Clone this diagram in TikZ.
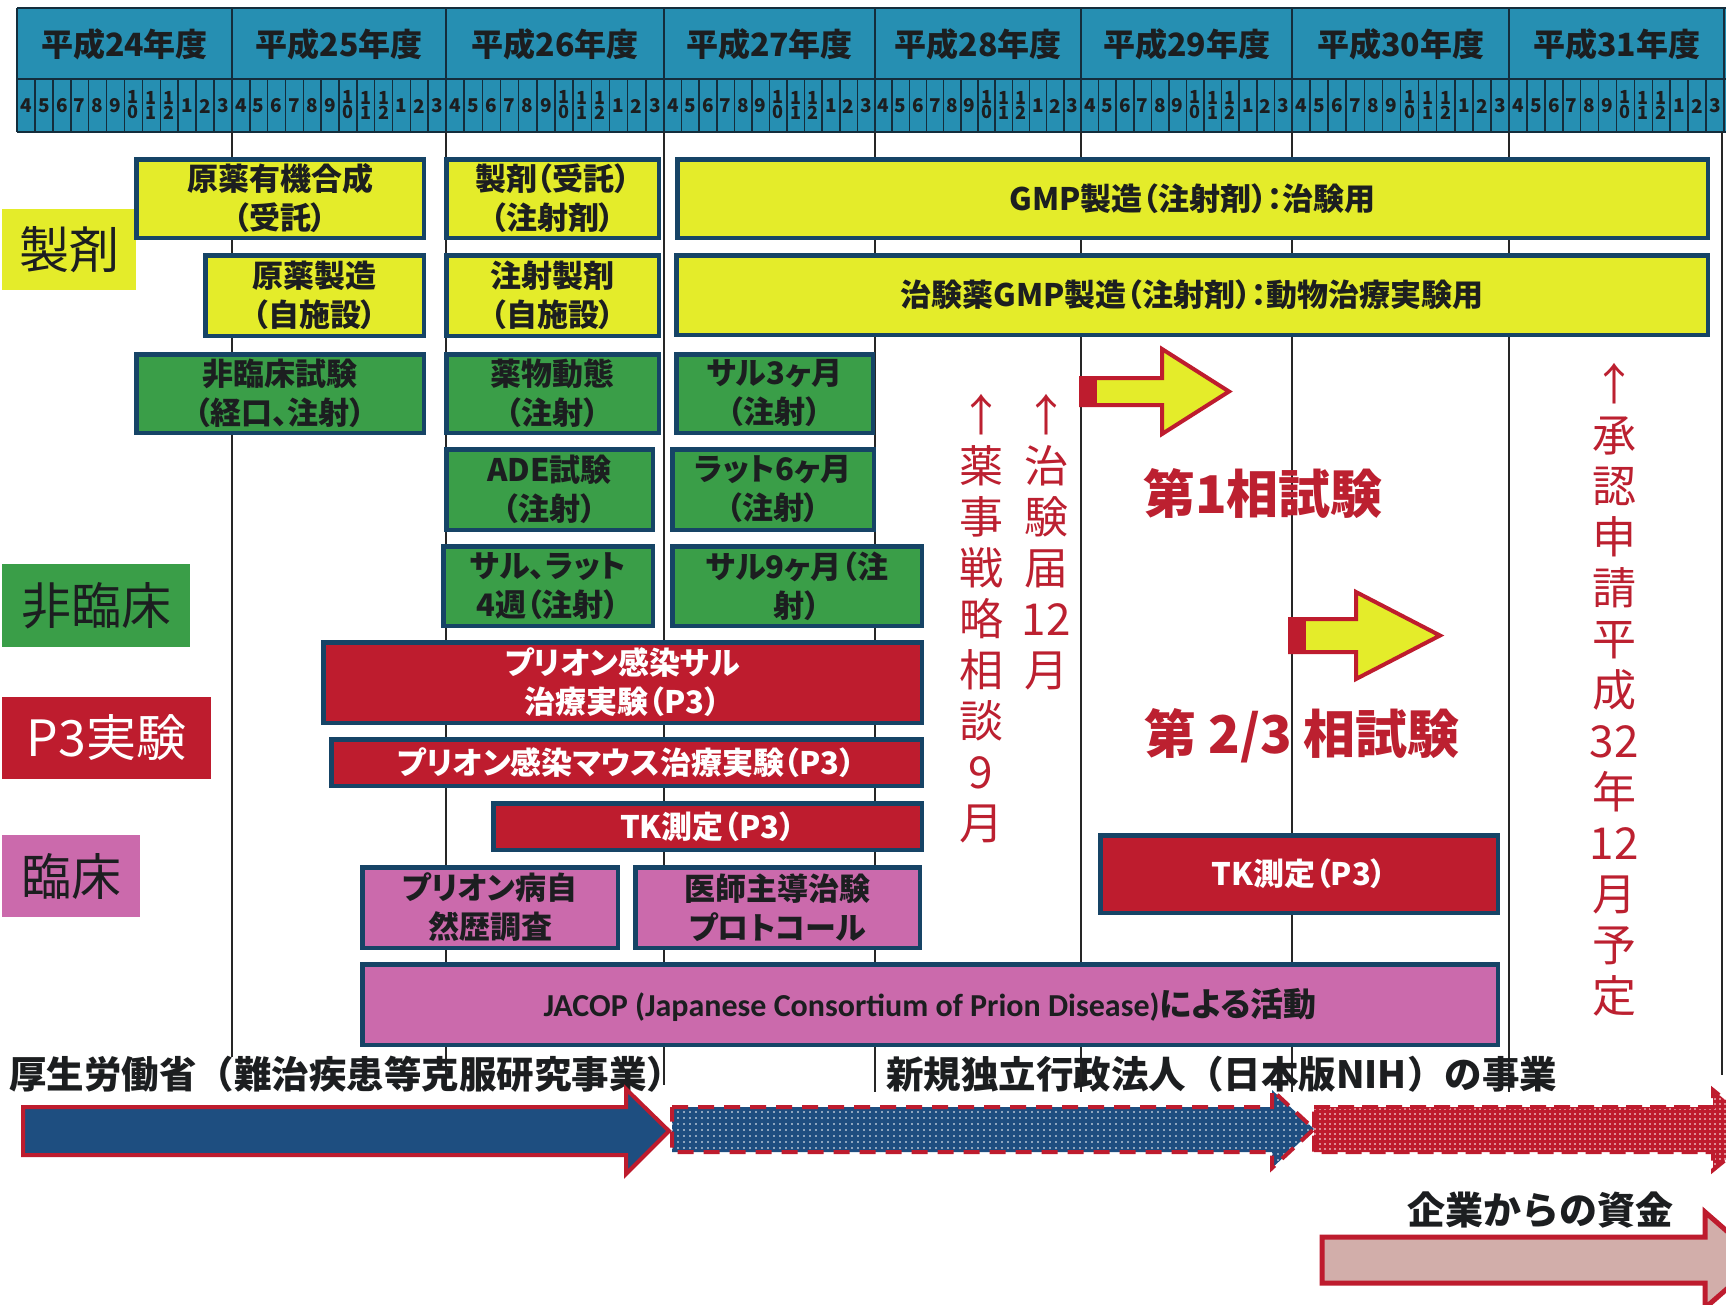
\documentclass[tikz,border=0pt]{standalone}
\usepackage{fontspec}
\setmainfont{Noto Sans CJK JP}
\newfontfamily\bxf[RawFeature={+palt}]{Noto Sans CJK JP}
\newfontfamily\latfont{Carlito}
\usetikzlibrary{patterns.meta}
\definecolor{hdr}{RGB}{38,143,178}
\definecolor{hdrline}{RGB}{20,45,60}
\definecolor{bline}{RGB}{22,68,102}
\definecolor{ylw}{RGB}{228,236,42}
\definecolor{grn}{RGB}{58,158,72}
\definecolor{rd}{RGB}{190,28,46}
\definecolor{pnk}{RGB}{203,106,172}
\definecolor{txt}{RGB}{28,30,32}
\definecolor{rtxt}{RGB}{188,32,48}
\definecolor{navyc}{RGB}{30,78,128}
\definecolor{tanc}{RGB}{210,174,170}
\tikzset{
  bx/.style={draw=bline, line width=4.5pt, inner sep=0pt, align=center, text=txt, font=\bxf\bfseries\fontsize{31}{39}\selectfont},
  ybx/.style={bx, fill=ylw},
  gbx/.style={bx, fill=grn},
  rbx/.style={bx, fill=rd, text=white},
  pbx/.style={bx, fill=pnk},
  cat/.style={inner sep=0pt, align=center, text=txt, font=\fontsize{50}{54}\selectfont},
  vtxt/.style={inner sep=0pt, align=center, text=rtxt, font=\fontsize{44}{51}\selectfont, anchor=north},
  phase/.style={text=rtxt, font=\bfseries\fontsize{52}{56}\selectfont, inner sep=0pt},
  btxt/.style={text=txt, font=\bfseries\fontsize{37.5}{40}\selectfont, inner sep=0pt, anchor=west},
  yr/.style={text=txt, font=\bfseries\fontsize{32}{34}\selectfont, inner sep=0pt},
  mo/.style={text=txt, font=\bfseries\fontsize{19}{20}\selectfont, inner sep=0pt},
  mo2/.style={text=txt, font=\bfseries\fontsize{18}{19}\selectfont, inner sep=0pt, align=center},
  gridln/.style={draw=black!85, line width=1.8pt},
  hline/.style={draw=hdrline, line width=2.2pt},
}
\newcommand{\bxn}[7]{\node[#2, minimum width={(#5-#3-4.5)*1pt}, minimum height={(#6-#4-4.5)*1pt}] (#1) at ({(#3+#5)/2},{(#4+#6)/2}) {#7};}
\begin{document}
\begin{tikzpicture}[x=1pt,y=-1pt]
\useasboundingbox (0,0) rectangle (1726,1304);
\begin{scope}
\clip (0,0) rectangle (1726,1304);
\fill[white] (0,0) rectangle (1726,1304);
% header
\fill[hdr] (17,8) rectangle (1726,132);
\draw[hline] (17,8) -- (1726,8);
\draw[hline] (17,79) -- (1726,79);
\draw[hline] (17,132) -- (1726,132);
\draw[hline] (17,8) -- (17,132);
\foreach \a/\b/\yy in {17/232/24, 232/446/25, 446/664/26, 664/875/27, 875/1081/28, 1081/1292/29, 1292/1509/30, 1509/1724/31}{
  \pgfmathsetmacro\w{(\b-\a)/12}
  \node[yr] (yr\yy) at ({(\a+\b)/2},44) {平成\yy{}年度};
  \draw[hline, line width=2.8pt] (\b,8) -- (\b,132);
  \foreach \m [count=\i from 0] in {4,5,6,7,8,9,10,11,12,1,2,3}{
    \pgfmathsetmacro\cx{\a+(\i+0.5)*\w}
    \ifnum\m>9
      \pgfmathtruncatemacro\ld{\m-10}
      \node[mo2] (m\yy-\i) at (\cx,105) {1\\[-4pt]\ld};
    \else
      \node[mo] (m\yy-\i) at (\cx,106) {\m};
    \fi
    \ifnum\i>0 \draw[hline, line width=1.6pt] ({\a+\i*\w},79) -- ({\a+\i*\w},132); \fi
  }
}
% body grid lines
\draw[gridln] (232,132) -- (232,1057);
\draw[gridln] (446,132) -- (446,1085);
\draw[gridln] (664,132) -- (664,1085);
\draw[gridln] (875,132) -- (875,1092);
\draw[gridln] (1081,132) -- (1081,1092);
\draw[gridln] (1292,132) -- (1292,1092);
\draw[gridln] (1509,132) -- (1509,1092);
\draw[gridln] (1722,132) -- (1722,1075);
% category labels
\bxn{cSei}{cat, fill=ylw}{0}{207}{138}{292}{製剤}
\bxn{cHi}{cat, fill=grn}{0}{562}{192}{649}{非臨床}
\bxn{cP3}{cat, fill=rd, text=white}{0}{695}{213}{781}{P3実験}
\bxn{cRin}{cat, fill=pnk}{0}{833}{142}{919}{臨床}
% yellow boxes
\bxn{y1}{ybx}{134}{157}{426}{240}{原薬有機合成\\（受託）}
\bxn{y2}{ybx}{444}{157}{661}{240}{製剤（受託）\\（注射剤）}
\bxn{y3}{ybx}{675}{157}{1710}{240}{GMP製造（注射剤）：治験用}
\bxn{y4}{ybx}{203}{253}{426}{338}{原薬製造\\（自施設）}
\bxn{y5}{ybx}{444}{253}{661}{338}{注射製剤\\（自施設）}
\bxn{y6}{ybx}{674}{253}{1710}{337}{治験薬GMP製造（注射剤）：動物治療実験用}
% green boxes
\bxn{g1}{gbx}{134}{352}{426}{435}{非臨床試験\\（経口、注射）}
\bxn{g2}{gbx}{444}{352}{661}{435}{薬物動態\\（注射）}
\bxn{g3}{gbx}{674}{352}{875}{435}{サル3ヶ月\\（注射）}
\bxn{g4}{gbx}{444}{447}{655}{532}{ADE試験\\（注射）}
\bxn{g5}{gbx}{670}{447}{876}{532}{ラット6ヶ月\\（注射）}
\bxn{g6}{gbx}{441}{544}{655}{628}{サル、ラット\\4週（注射）}
\bxn{g7}{gbx}{670}{544}{924}{628}{サル9ヶ月（注\\射）}
% red boxes
\bxn{r1}{rbx}{321}{640}{924}{725}{プリオン感染サル\\治療実験（P3）}
\bxn{r2}{rbx}{329}{737}{924}{788}{プリオン感染マウス治療実験（P3）}
\bxn{r3}{rbx}{491}{801}{924}{852}{TK測定（P3）}
\bxn{r4}{rbx}{1098}{833}{1500}{915}{TK測定（P3）}
% pink boxes
\bxn{p1}{pbx}{360}{865}{620}{950}{プリオン病自\\然歴調査}
\bxn{p2}{pbx}{633}{865}{922}{950}{医師主導治験\\プロトコール}
\bxn{p3}{pbx}{360}{962}{1500}{1047}{{\latfont\bfseries\fontsize{32}{39}\selectfont JACOP (Japanese Consortium of Prion Disease)}{\fontsize{33}{39}\selectfont による活動}}
% vertical red notes
\node[vtxt] (v1) at (981,394) {↑\\薬\\事\\戦\\略\\相\\談\\9\\月};
\node[vtxt] (v2) at (1046,394) {↑\\治\\験\\届\\12\\月};
\node[vtxt] (v3) at (1614,363) {↑\\承\\認\\申\\請\\平\\成\\32\\年\\12\\月\\予\\定};
% phase arrows
\filldraw[fill=ylw, draw=rd, line width=4pt] (1081,378) -- (1162,378) -- (1162,349) -- (1229,391.5) -- (1162,434) -- (1162,405) -- (1081,405) -- cycle;
\fill[rd] (1079,376) rectangle (1097,407);
\filldraw[fill=ylw, draw=rd, line width=4pt] (1290,619) -- (1356,619) -- (1356,592) -- (1440,635.5) -- (1356,679) -- (1356,652) -- (1290,652) -- cycle;
\fill[rd] (1288,617) rectangle (1306,654);
\node[phase] (ph1) at (1263,494) {第1相試験};
\node[phase] (ph2) at (1302,736) {第 2/3 相試験};
% funding texts
\node[btxt] (mhlw) at (9,1074) {厚生労働省（難治疾患等克服研究事業）};
\node[btxt] (nih) at (886,1074) {新規独立行政法人（日本版NIH）の事業};
\node[btxt, font=\bfseries\fontsize{38}{40}\selectfont] (corp) at (1407,1210) {企業からの資金};
% funding arrows
\filldraw[fill=navyc, draw=rd, line width=4pt] (23,1107) -- (626,1107) -- (626,1089) -- (669,1131) -- (626,1174) -- (626,1155) -- (23,1155) -- cycle;
\path[fill=navyc, postaction={pattern={Dots[distance=6pt,radius=0.8pt]}, pattern color=white}] (672,1107) -- (1272,1107) -- (1272,1090) -- (1314,1129) -- (1272,1168) -- (1272,1152) -- (672,1152) -- cycle;
\draw[rd, line width=4pt, dash pattern=on 16pt off 10pt] (672,1107) -- (1272,1107) -- (1272,1090) -- (1314,1129) -- (1272,1168) -- (1272,1152) -- (672,1152) -- cycle;
\path[fill=rd, postaction={pattern={Dots[distance=5pt,radius=0.9pt]}, pattern color=white}] (1314,1107) -- (1713,1107) -- (1713,1090) -- (1762,1130) -- (1713,1170) -- (1713,1152) -- (1314,1152) -- cycle;
\draw[rd, line width=4pt, dash pattern=on 16pt off 8pt] (1314,1107) -- (1713,1107) -- (1713,1090) -- (1762,1130) -- (1713,1170) -- (1713,1152) -- (1314,1152) -- cycle;
\filldraw[fill=tanc, draw=rd, line width=5pt] (1322,1237) -- (1705,1237) -- (1705,1212) -- (1760,1260) -- (1705,1308) -- (1705,1283) -- (1322,1283) -- cycle;
\end{scope}
\end{tikzpicture}
\end{document}
